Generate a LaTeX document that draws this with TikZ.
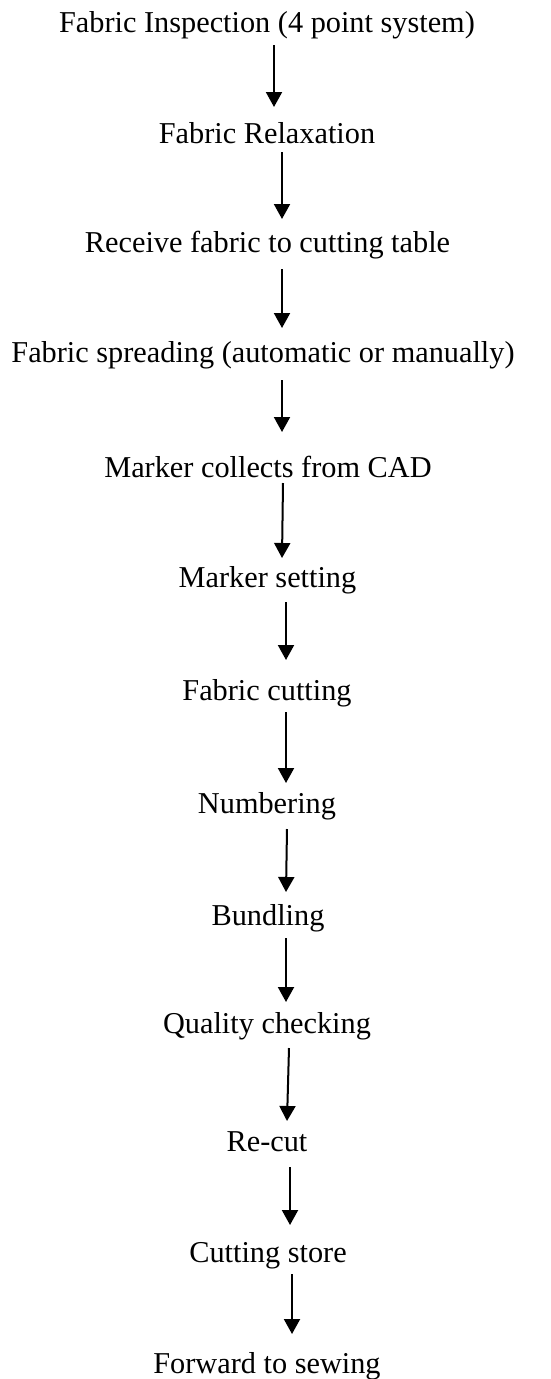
\documentclass[tikz,border=0pt]{standalone}
\usepackage{fontspec}
\setmainfont{Liberation Serif}
\usetikzlibrary{arrows.meta}
\begin{document}
\begin{tikzpicture}[x=1pt,y=-1pt,
  stepnode/.style={anchor=base,inner sep=0pt,font=\fontsize{30.3}{33}\selectfont},
  arr/.style={line width=2pt,-{Triangle[length=15pt,width=16pt]}}]
\useasboundingbox (0,0) rectangle (551,1379);
\node[stepnode] (n1) at (267,32) {Fabric Inspection (4 point system)};
\node[stepnode] (n2) at (267,143) {Fabric Relaxation};
\node[stepnode] (n3) at (267.5,252) {Receive fabric to cutting table};
\node[stepnode] (n4) at (263,362) {Fabric spreading (automatic or manually)};
\node[stepnode] (n5) at (268,477) {Marker collects from CAD};
\node[stepnode] (n6) at (267.5,587) {Marker setting};
\node[stepnode] (n7) at (267,700) {Fabric cutting};
\node[stepnode] (n8) at (267,813) {Numbering};
\node[stepnode] (n9) at (268,925) {Bundling};
\node[stepnode] (n10) at (267,1033) {Quality checking};
\node[stepnode] (n11) at (267,1151) {Re-cut};
\node[stepnode] (n12) at (268,1262) {Cutting store};
\node[stepnode] (n13) at (267,1373) {Forward to sewing};
\coordinate (a1s) at (274,45);  \coordinate (a1e) at (274,107);
\coordinate (a2s) at (282,152); \coordinate (a2e) at (282,219);
\coordinate (a3s) at (282,269); \coordinate (a3e) at (282,328);
\coordinate (a4s) at (282,380); \coordinate (a4e) at (282,432);
\coordinate (a5s) at (283,483); \coordinate (a5e) at (282,558);
\coordinate (a6s) at (286,602); \coordinate (a6e) at (286,660);
\coordinate (a7s) at (286,712); \coordinate (a7e) at (286,783);
\coordinate (a8s) at (287,829); \coordinate (a8e) at (286,892);
\coordinate (a9s) at (286,938); \coordinate (a9e) at (286,1002);
\coordinate (a10s) at (289,1048); \coordinate (a10e) at (287,1121);
\coordinate (a11s) at (290,1167); \coordinate (a11e) at (290,1225);
\coordinate (a12s) at (292,1274); \coordinate (a12e) at (292,1334);
\foreach \i in {1,...,12} {\draw[arr] (a\i s) -- (a\i e);}
\end{tikzpicture}
\end{document}
